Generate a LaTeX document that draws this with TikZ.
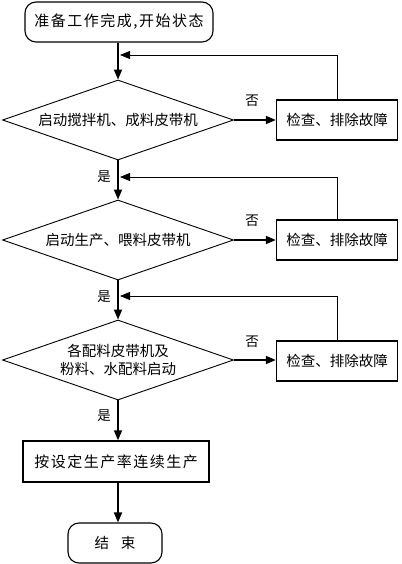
\documentclass[tikz,border=0pt]{standalone}
\usepackage{fontspec}
\setmainfont{Noto Sans CJK SC}
\usetikzlibrary{shapes.geometric,arrows.meta}
\tikzset{
  x=1pt,y=-1pt,
  every node/.style={font=\fontsize{14.5}{18}\selectfont},
  term/.style={draw,line width=1.1pt,rounded corners=11pt,inner sep=0pt},
  dec/.style={draw,diamond,line width=0.9pt,inner sep=0pt,aspect=2.875,minimum width=231pt,minimum height=80pt,align=center},
  proc/.style={draw,line width=1.4pt,inner sep=0pt},
  flow/.style={line width=1.7pt,-{Triangle[length=10pt,width=8pt]}},
  back/.style={line width=0.8pt,-{Triangle[length=10pt,width=8pt]}},
  lab/.style={font=\fontsize{13.5}{16}\selectfont},
  spaced/.style={font=\fontsize{15}{18}\selectfont\addfontfeature{LetterSpace=10}}
}
\begin{document}
\begin{tikzpicture}
\useasboundingbox (0,0) rectangle (401,564);
\node[term,spaced,minimum width=188pt,minimum height=40pt] (start) at (119,22) {准备工作完成,开始状态};
\node[dec] (d1) at (118,120) {启动搅拌机、成料皮带机};
\node[dec] (d2) at (118,240) {启动生产、喂料皮带机};
\node[dec] (d3) at (118,360) {各配料皮带机及\\粉料、水配料启动};
\node[proc,minimum width=121pt,minimum height=40pt] (b1) at (337,120) {检查、排除故障};
\node[proc,minimum width=121pt,minimum height=40pt] (b2) at (337,240) {检查、排除故障};
\node[proc,minimum width=121pt,minimum height=40pt] (b3) at (337,361) {检查、排除故障};
\node[proc,spaced,minimum width=186pt,minimum height=41pt] (p4) at (116,461.5) {按设定生产率连续生产};
\node[term,minimum width=94pt,minimum height=40pt] (end) at (115,543) {结\hspace{12pt}束};
\coordinate (j1) at (120,55);
\coordinate (j2) at (120,177);
\coordinate (j3) at (120,296);
\draw[flow] (start.south -| d1.north) -- (d1.north);
\draw[flow] (d1.south) -- (d2.north);
\draw[flow] (d2.south) -- (d3.north);
\draw[flow] (d3.south) -- (d3.south |- p4.north);
\draw[flow] (p4.south -| d3.south) -- (d3.south |- end.north);
\draw[flow] (d1.east) -- (b1.west);
\draw[flow] (d2.east) -- (b2.west);
\draw[flow] (d3.east) -- (b3.west |- d3.east);
\draw[back] (b1.north) |- (j1);
\draw[back] (b2.north) |- (j2);
\draw[back] (b3.north) |- (j3);
\node[lab] (n1) at (252,101) {否};
\node[lab] (n2) at (252,221) {否};
\node[lab] (n3) at (252,342) {否};
\node[lab] (y1) at (104,177) {是};
\node[lab] (y2) at (104,297) {是};
\node[lab] (y3) at (104,416) {是};
\end{tikzpicture}
\end{document}
